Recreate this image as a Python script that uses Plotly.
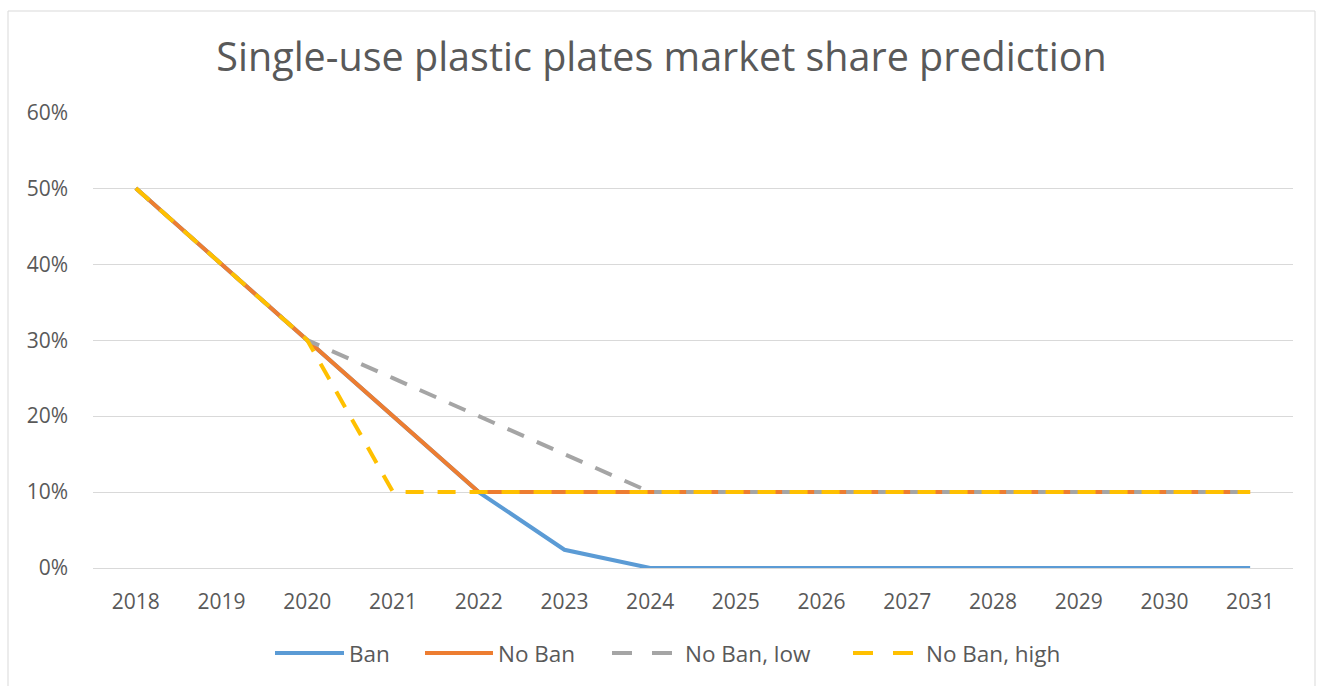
import plotly.graph_objects as go

years = [str(y) for y in range(2018, 2032)]
ban = [0.50, 0.40, 0.30, 0.20, 0.10, 0.024, 0, 0, 0, 0, 0, 0, 0, 0]
no_ban = [0.50, 0.40, 0.30, 0.20, 0.10, 0.10, 0.10, 0.10, 0.10, 0.10, 0.10, 0.10, 0.10, 0.10]
no_ban_low = [0.50, 0.40, 0.30, 0.25, 0.20, 0.15, 0.10, 0.10, 0.10, 0.10, 0.10, 0.10, 0.10, 0.10]
no_ban_high = [0.50, 0.40, 0.30, 0.10, 0.10, 0.10, 0.10, 0.10, 0.10, 0.10, 0.10, 0.10, 0.10, 0.10]

series = [
    ("Ban", ban, "#5B9BD5", "solid"),
    ("No Ban", no_ban, "#ED7D31", "solid"),
    ("No Ban, low", no_ban_low, "#A5A5A5", "18px,14px"),
    ("No Ban, high", no_ban_high, "#FFC000", "18px,14px"),
]

fig = go.Figure()
for name, vals, color, dash in series:
    fig.add_trace(go.Scatter(
        x=years, y=vals, name=name, mode="lines", showlegend=False,
        line=dict(color=color, width=4, dash=dash),
    ))

W, H = 1320, 686
ml, mr, mt, mb = 93, 27, 112, 118
pw, ph = W - ml - mr, H - mt - mb

def px_x(p):
    return (p - ml) / pw

def px_y(p):
    return (H - mb - p) / ph

font = "Open Sans, Liberation Sans, sans-serif"
grey_text = "#595959"

shapes = [dict(type="rect", xref="paper", yref="paper",
               x0=px_x(8), x1=px_x(1315), y0=px_y(700), y1=px_y(11),
               line=dict(color="#D9D9D9", width=1), layer="below")]
annotations = []

# custom legend (line sample start/end, text start in pixels)
legend_pos = [(275, 344, 347), (425, 493, 496), (612, 680, 683), (853, 921, 924)]
ly = px_y(653)
for (name, vals, color, dash), (x0, x1, xt) in zip(series, legend_pos):
    if dash == "solid":
        shapes.append(dict(type="line", xref="paper", yref="paper",
                           x0=px_x(x0), x1=px_x(x1), y0=ly, y1=ly,
                           line=dict(color=color, width=4)))
    else:
        for a, b in [(x0, x0 + 20), (x0 + 40, x0 + 60)]:
            shapes.append(dict(type="line", xref="paper", yref="paper",
                               x0=px_x(a), x1=px_x(b), y0=ly, y1=ly,
                               line=dict(color=color, width=4)))
    annotations.append(dict(text=name, xref="paper", yref="paper",
                            x=px_x(xt), y=ly, xanchor="left", yanchor="middle",
                            showarrow=False,
                            font=dict(size=22.5, color=grey_text, family=font)))

fig.update_layout(
    width=W, height=H,
    margin=dict(l=ml, r=mr, t=mt, b=mb),
    paper_bgcolor="white", plot_bgcolor="white",
    font=dict(family=font, color=grey_text, size=21),
    title=dict(text="Single-use plastic plates market share prediction",
               x=661.5 / W, xref="container", xanchor="center",
               y=1 - 57 / H, yanchor="middle",
               font=dict(size=39.5, color=grey_text, family=font)),
    showlegend=False,
    xaxis=dict(type="category", range=[-0.5, 13.5], showgrid=False,
               showline=True, linecolor="#D9D9D9", linewidth=1,
               ticks="", tickfont=dict(size=21, color=grey_text),
               ticklabelstandoff=15, fixedrange=True),
    yaxis=dict(range=[0, 0.6005], tickvals=[0, 0.1, 0.2, 0.3, 0.4, 0.5, 0.6],
               tickformat=".0%", showgrid=True, gridcolor="#D9D9D9",
               gridwidth=1, zeroline=False, showline=False, ticks="",
               tickfont=dict(size=21, color=grey_text),
               ticklabelstandoff=24, fixedrange=True),
    shapes=shapes,
    annotations=annotations,
)

fig.write_html("out.html")
